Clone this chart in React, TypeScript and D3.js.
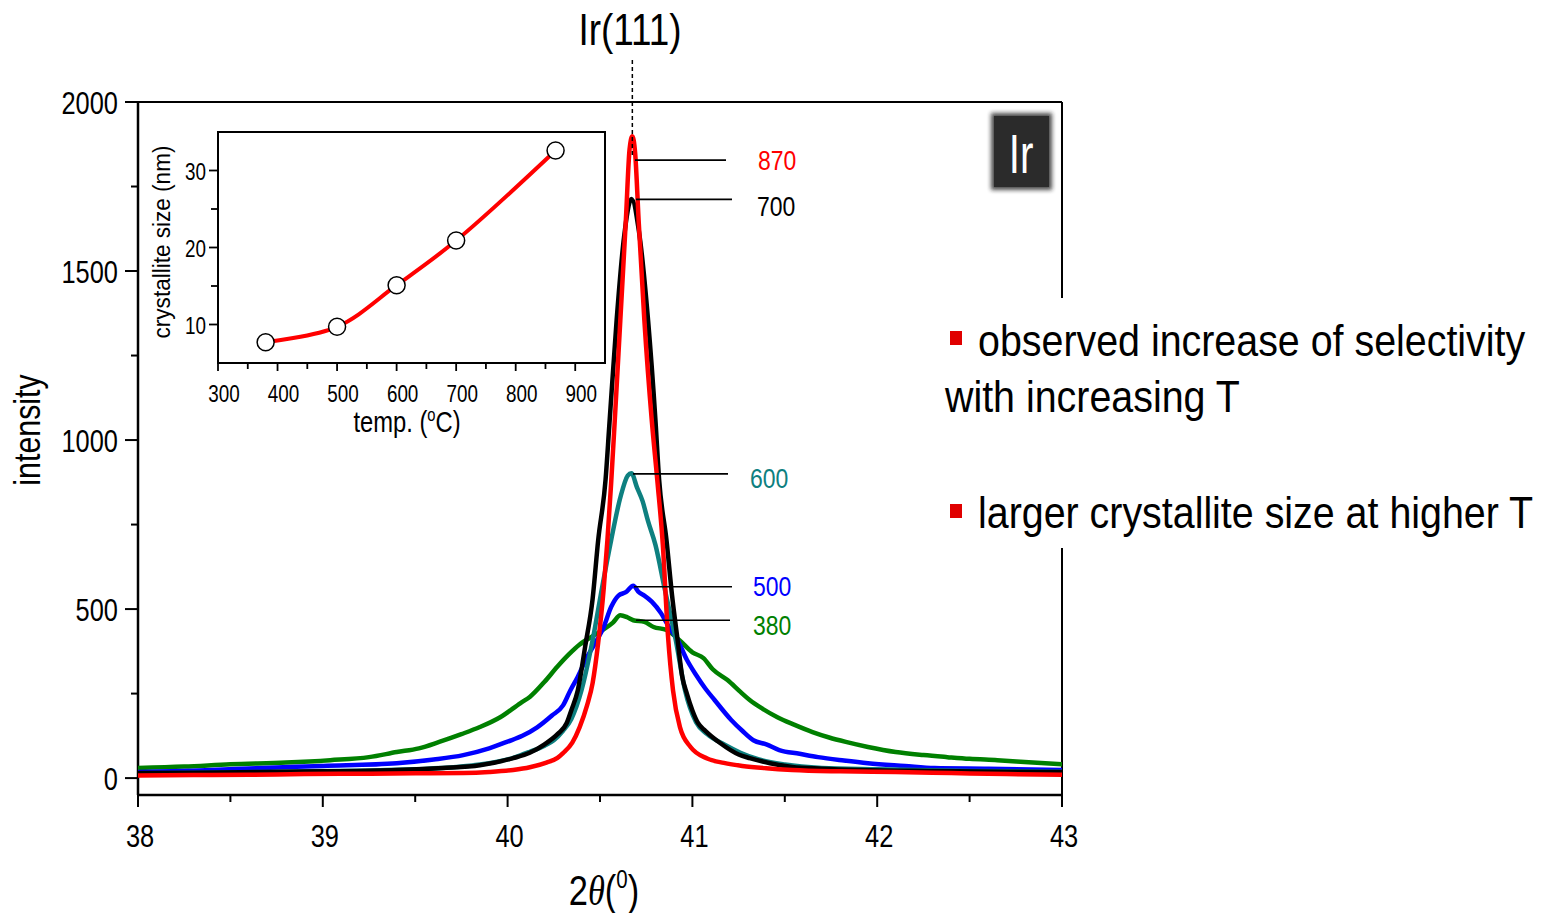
import React from 'react';
import * as d3 from 'd3';

// ---------- data ----------
const xTicks = [38, 39, 40, 41, 42, 43];
const xMinor = [38.5, 39.5, 40.5, 41.5, 42.5];
const yTicks = [0, 500, 1000, 1500, 2000];
const yMinor = [250, 750, 1250, 1750];

const series380: [number, number][] = [
  [38.0, 30], [38.25, 34], [38.5, 41], [38.8, 46], [39.04, 53], [39.25, 62], [39.4, 77], [39.52, 88],
  [39.63, 107], [39.75, 130], [39.85, 151], [39.96, 180], [40.07, 222], [40.12, 240], [40.2, 285],
  [40.27, 330], [40.33, 365], [40.39, 395], [40.46, 420], [40.52, 440], [40.57, 460], [40.61, 482],
  [40.65, 475], [40.68, 467], [40.74, 462], [40.79, 447], [40.86, 438], [40.93, 408], [41.0, 372],
  [41.06, 355], [41.11, 322], [41.19, 290], [41.26, 255], [41.31, 231], [41.38, 205], [41.46, 180],
  [41.55, 158], [41.65, 136], [41.74, 120], [41.83, 107], [41.95, 92], [42.1, 77], [42.25, 68],
  [42.38, 62], [42.5, 57], [42.65, 53], [42.82, 47], [43.0, 41],
];

const series500: [number, number][] = [
  [38.0, 18], [38.3, 22], [38.68, 30], [39.0, 36], [39.4, 44], [39.6, 55], [39.76, 68], [39.9, 88],
  [40.0, 108], [40.08, 125], [40.16, 150], [40.24, 185], [40.3, 215], [40.34, 260], [40.38, 300],
  [40.43, 358], [40.48, 405], [40.52, 447], [40.56, 506], [40.6, 540], [40.64, 550], [40.68, 569],
  [40.71, 550], [40.74, 540], [40.78, 522], [40.83, 488], [40.87, 450], [40.92, 408], [40.97, 350],
  [41.02, 305], [41.07, 265], [41.12, 231], [41.21, 172], [41.27, 140], [41.33, 112], [41.4, 100],
  [41.47, 83], [41.58, 72], [41.68, 62], [41.82, 52], [41.95, 44], [42.15, 36], [42.31, 30],
  [42.6, 28], [43.0, 24],
];

const series600: [number, number][] = [
  [38.0, 14], [38.4, 16], [38.8, 19], [39.2, 22], [39.5, 26], [39.85, 40], [40.03, 60], [40.12, 78],
  [40.2, 96], [40.25, 112], [40.3, 140], [40.345, 175], [40.4, 260], [40.46, 408], [40.51, 560],
  [40.56, 703], [40.61, 830], [40.65, 895], [40.67, 902], [40.7, 860], [40.73, 820], [40.76, 760],
  [40.8, 690], [40.85, 560], [40.91, 408], [40.96, 260], [41.02, 165], [41.08, 130], [41.17, 100],
  [41.26, 75], [41.36, 55], [41.5, 40], [41.7, 30], [42.0, 26], [42.5, 21], [43.0, 19],
];

const series700: [number, number][] = [
  [38.0, 15], [38.3, 16], [38.66, 18], [39.0, 20], [39.4, 24], [39.65, 30], [39.85, 38], [40.03, 59],
  [40.12, 75], [40.2, 100], [40.27, 130], [40.32, 163], [40.345, 201], [40.38, 260], [40.42, 390],
  [40.46, 530], [40.49, 703], [40.53, 882], [40.55, 1040], [40.59, 1355], [40.63, 1600], [40.67, 1713],
  [40.71, 1620], [40.76, 1355], [40.8, 1059], [40.82, 882], [40.86, 703], [40.89, 540], [40.92, 408],
  [40.945, 300], [40.97, 250], [41.0, 200], [41.03, 163], [41.07, 140], [41.15, 104], [41.25, 70],
  [41.31, 59], [41.42, 44], [41.54, 33], [41.7, 28], [41.91, 24], [42.3, 21], [42.7, 19], [43.0, 18],
];

const series870: [number, number][] = [
  [38.0, 8], [38.3, 9], [38.6, 10], [38.9, 12], [39.2, 13], [39.5, 14], [39.76, 15], [39.9, 18],
  [40.03, 24], [40.12, 32], [40.21, 46], [40.27, 60], [40.3, 74], [40.35, 105], [40.39, 151],
  [40.43, 215], [40.46, 281], [40.49, 400], [40.52, 560], [40.54, 703], [40.56, 870], [40.58, 1059],
  [40.61, 1355], [40.64, 1651], [40.66, 1860], [40.675, 1899], [40.69, 1850], [40.71, 1640],
  [40.74, 1355], [40.78, 1059], [40.81, 882], [40.84, 690], [40.868, 420], [40.895, 260],
  [40.933, 150], [40.99, 92], [41.08, 58], [41.17, 45], [41.27, 36], [41.4, 29], [41.54, 24],
  [41.8, 20], [42.1, 18], [42.4, 15], [42.7, 12], [43.0, 10],
];

const seriesNames = ['380', '500', '600', '700', '870'];
const seriesColors = ['#008000', '#0000ff', '#0e8080', '#000000', '#ff0000'];
const seriesData = [series380, series500, series600, series700, series870];
const leaderLevels = [467, 566, 900, 1712, 1828];
const peakPosition = 40.675;

const insetTemps = [380, 500, 600, 700, 867];
const insetSizes = [7.7, 9.7, 15.1, 20.9, 32.6];
const insetXTicks = [300, 400, 500, 600, 700, 800, 900];
const insetXMinor = [350, 450, 550, 650, 750, 850];
const insetYTicks = [10, 20, 30];
const insetYMinor = [15, 25];

const bullets = ['observed increase of selectivity', 'with increasing T', 'larger crystallite size at higher T'];

// ---------- layout ----------
const W = 1548, H = 913;
const M = { left: 138, right: 1062, top: 102, bottom: 795 };
const INSET = { left: 218, right: 605, top: 132, bottom: 363 };
const FONT = 'Liberation Sans, Arial, sans-serif';
const NARROW = 0.82;

const labelLayout: Record<string, { tx: number; dy: number; x1: number; x2: number }> = {
  '870': { tx: 758, dy: 10, x1: 635, x2: 726 },
  '700': { tx: 757, dy: 17, x1: 636, x2: 732 },
  '600': { tx: 750, dy: 14, x1: 633, x2: 728 },
  '500': { tx: 753, dy: 9, x1: 634, x2: 732 },
  '380': { tx: 753, dy: 15, x1: 636, x2: 730 },
};

function T(props: {
  x: number; y: number; size: number; anchor?: string; sx?: number; fill?: string;
  rotate?: number; children: React.ReactNode; family?: string; textLength?: number;
}) {
  const { x, y, size, anchor = 'start', sx = NARROW, fill = '#000', rotate = 0, family = FONT, textLength } = props;
  return (
    <text
      transform={`translate(${x},${y}) rotate(${rotate}) scale(${sx},1)`}
      fontSize={size}
      fontFamily={family}
      textAnchor={anchor as any}
      fill={fill}
      textLength={textLength}
      lengthAdjust={textLength ? 'spacingAndGlyphs' : undefined}
    >
      {props.children}
    </text>
  );
}

export default function App() {
  const x = d3.scaleLinear().domain([38, 43]).range([M.left, M.right]);
  const y = d3.scaleLinear().domain([-50, 2000]).range([M.bottom, M.top]);
  const line = d3
    .line<[number, number]>()
    .x((d) => x(d[0]))
    .y((d) => y(d[1]))
    .curve(d3.curveMonotoneX);

  const ix = d3.scaleLinear().domain([300, 950]).range([INSET.left, INSET.right]);
  const iy = d3.scaleLinear().domain([5, 35]).range([INSET.bottom, INSET.top]);
  const insetPts: [number, number][] = insetTemps.map((t, i) => [t, insetSizes[i]]);
  const insetLine = d3
    .line<[number, number]>()
    .x((d) => ix(d[0]))
    .y((d) => iy(d[1]))
    .curve(d3.curveCatmullRom.alpha(0.5));

  return (
    <svg width={W} height={H} style={{ position: 'absolute', left: 0, top: 0, background: '#fff' }}>
      <defs>
        <filter id="blur" x="-30%" y="-30%" width="160%" height="160%">
          <feGaussianBlur stdDeviation="2" />
        </filter>
        <clipPath id="plotClip">
          <rect x={M.left} y={M.top} width={M.right - M.left} height={M.bottom - M.top} />
        </clipPath>
      </defs>
      <rect x={0} y={0} width={W} height={H} fill="#fff" />

      {/* frame */}
      <line x1={M.left} x2={M.right} y1={M.top} y2={M.top} stroke="#000" strokeWidth={2} />
      <line x1={M.left} x2={M.right} y1={M.bottom} y2={M.bottom} stroke="#000" strokeWidth={2.5} />
      <line x1={M.left} x2={M.left} y1={M.top} y2={M.bottom} stroke="#000" strokeWidth={2.5} />
      <line x1={M.right} x2={M.right} y1={M.top} y2={M.bottom} stroke="#000" strokeWidth={2} />

      {/* y ticks */}
      {yTicks.map((t) => (
        <g key={'yt' + t}>
          <line x1={M.left - 13} x2={M.left} y1={y(t)} y2={y(t)} stroke="#000" strokeWidth={2} />
          <T x={M.left - 20} y={y(t) + 12} size={31} anchor="end">{t}</T>
        </g>
      ))}
      {yMinor.map((t) => (
        <line key={'ym' + t} x1={M.left - 7} x2={M.left} y1={y(t)} y2={y(t)} stroke="#000" strokeWidth={2} />
      ))}
      {/* x ticks */}
      {xTicks.map((t) => (
        <g key={'xt' + t}>
          <line x1={x(t)} x2={x(t)} y1={M.bottom} y2={M.bottom + 12} stroke="#000" strokeWidth={2} />
          <T x={x(t) + 2} y={M.bottom + 52} size={31} anchor="middle">{t}</T>
        </g>
      ))}
      {xMinor.map((t) => (
        <line key={'xm' + t} x1={x(t)} x2={x(t)} y1={M.bottom} y2={M.bottom + 7} stroke="#000" strokeWidth={2} />
      ))}

      {/* axis titles */}
      <T x={40} y={430} size={37} anchor="middle" rotate={-90}>intensity</T>
      <text transform={`translate(604,905) scale(${NARROW},1)`} fontSize={42} fontFamily={FONT} textAnchor="middle">
        <tspan>2</tspan>
        <tspan fontFamily="Liberation Serif, serif" fontStyle="italic">θ</tspan>
        <tspan>(</tspan>
        <tspan fontSize={25} dy={-17}>0</tspan>
        <tspan dy={17}>)</tspan>
      </text>

      {/* curves */}
      <g clipPath="url(#plotClip)">
        {seriesData.map((s, i) => (
          <path key={seriesNames[i]} d={line(s) || ''} fill="none" stroke={seriesColors[i]} strokeWidth={4.5}
            strokeLinejoin="round" strokeLinecap="round" />
        ))}
      </g>

      {/* peak marker */}
      <line x1={x(peakPosition)} x2={x(peakPosition)} y1={60} y2={158} stroke="#000" strokeWidth={1.5} strokeDasharray="4,3" />
      <T x={630} y={45} size={45} anchor="middle">Ir(111)</T>

      {/* peak labels */}
      {seriesNames.map((n, i) => {
        const L = labelLayout[n];
        const ly = y(leaderLevels[i]);
        return (
          <g key={'lab' + n}>
            <line x1={L.x1} x2={L.x2} y1={ly} y2={ly} stroke="#000" strokeWidth={1.6} />
            <T x={L.tx} y={ly + L.dy} size={28} fill={seriesColors[i]}>{n}</T>
          </g>
        );
      })}

      {/* Ir badge */}
      <rect x={991} y={113} width={61} height={77} fill="#222" filter="url(#blur)" opacity={0.8} />
      <rect x={994} y={116} width={55} height={71} fill="#2b2b2b" />
      <T x={1021} y={173} size={56} anchor="middle" sx={0.72} fill="#fff">Ir</T>

      {/* inset */}
      <rect x={INSET.left} y={INSET.top} width={INSET.right - INSET.left} height={INSET.bottom - INSET.top}
        fill="#fff" stroke="#000" strokeWidth={2} />
      {insetYTicks.map((t) => (
        <g key={'iyt' + t}>
          <line x1={INSET.left - 9} x2={INSET.left} y1={iy(t)} y2={iy(t)} stroke="#000" strokeWidth={1.8} />
          <T x={INSET.left - 12} y={iy(t) + 9} size={23} anchor="end">{t}</T>
        </g>
      ))}
      {insetYMinor.map((t) => (
        <line key={'iym' + t} x1={INSET.left - 7} x2={INSET.left} y1={iy(t)} y2={iy(t)} stroke="#000" strokeWidth={1.8} />
      ))}
      {insetXTicks.map((t) => (
        <g key={'ixt' + t}>
          <line x1={ix(t)} x2={ix(t)} y1={INSET.bottom} y2={INSET.bottom + 8} stroke="#000" strokeWidth={1.8} />
          <T x={ix(t) + 6} y={INSET.bottom + 39} size={23} anchor="middle">{t}</T>
        </g>
      ))}
      {insetXMinor.map((t) => (
        <line key={'ixm' + t} x1={ix(t)} x2={ix(t)} y1={INSET.bottom} y2={INSET.bottom + 6} stroke="#000" strokeWidth={1.8} />
      ))}
      <path d={insetLine(insetPts) || ''} fill="none" stroke="#ff0000" strokeWidth={4} />
      {insetPts.map((p, i) => (
        <circle key={'ip' + i} cx={ix(p[0])} cy={iy(p[1])} r={8.5} fill="#fff" stroke="#000" strokeWidth={1.5} />
      ))}
      <T x={170} y={242} size={23.5} anchor="middle" rotate={-90} sx={0.96}>crystallite size (nm)</T>
      <text transform={`translate(407,432) scale(${NARROW},1)`} fontSize={29} fontFamily={FONT} textAnchor="middle">
        <tspan>temp. (</tspan>
        <tspan fontSize={18} dy={-11}>o</tspan>
        <tspan dy={11}>C)</tspan>
      </text>

      {/* bullet text block */}
      <rect x={935} y={298} width={605} height={250} fill="#fff" />
      <rect x={950} y={331} width={12} height={14} fill="#e00000" />
      <T x={978} y={356} size={44} sx={0.895}>{bullets[0]}</T>
      <T x={945} y={412} size={44} sx={0.895}>{bullets[1]}</T>
      <rect x={950} y={504} width={12} height={14} fill="#e00000" />
      <T x={978} y={528} size={44} sx={0.895}>{bullets[2]}</T>
    </svg>
  );
}
